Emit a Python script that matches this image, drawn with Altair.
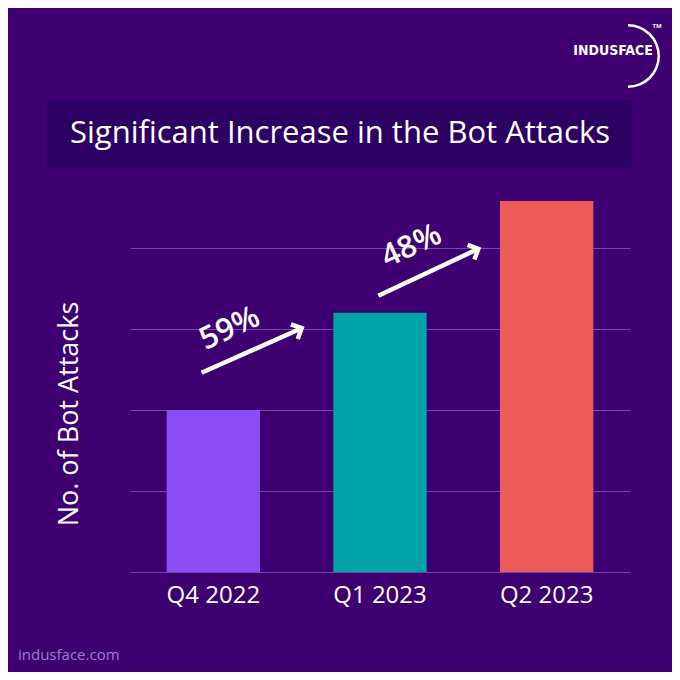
import altair as alt
import pandas as pd

# ---- data ----
quarters = ["Q4 2022", "Q1 2023", "Q2 2023"]
attacks = [2.0, 3.2, 4.58]          # relative bot-attack volume (grid units)
bar_colors = ["#8b4cf6", "#00a3a8", "#ee5a5a"]

growth_labels = ["59%", "48%"]
# growth arrows, in bar-index units (bar i centred at i + 0.5) and y units
arrow_x0 = [0.43, 1.49]
arrow_y0 = [2.46, 3.41]
arrow_x1 = [1.03, 2.09]
arrow_y1 = [3.01, 3.99]
label_x = [0.60, 1.69]
label_y = [3.00, 4.02]

grid_values = [0, 1, 2, 3, 4]

FONT = "Open Sans"
BG = "#3e0070"
WHITE = "#ffffff"

bars_df = pd.DataFrame({"quarter": quarters, "attacks": attacks})
arrows_df = pd.DataFrame({
    "x0": arrow_x0, "y0": arrow_y0, "x1": arrow_x1, "y1": arrow_y1,
})
labels_df = pd.DataFrame({"x": label_x, "y": label_y, "label": growth_labels})

yscale = alt.Scale(domain=[0, 5], nice=False)
xcont = alt.Scale(domain=[0, 3], nice=False, zero=False)

bars = alt.Chart(bars_df).mark_bar().encode(
    x=alt.X("quarter:N", sort=quarters,
            scale=alt.Scale(paddingInner=0.44, paddingOuter=0.22),
            axis=alt.Axis(title=None, labelAngle=0, labelFontSize=24, labelColor=WHITE,
                          labelFont=FONT, labelPadding=11, ticks=False, domain=False,
                          grid=False)),
    y=alt.Y("attacks:Q", scale=yscale,
            axis=alt.Axis(values=grid_values, labels=False, ticks=False, domain=False,
                          title=None, grid=True, gridColor="#6f47a8", gridWidth=1)),
    color=alt.Color("quarter:N", sort=quarters,
                    scale=alt.Scale(domain=quarters, range=bar_colors), legend=None),
)

arrow_lines = alt.Chart(arrows_df).mark_rule(color=WHITE, strokeWidth=4.5).encode(
    x=alt.X("x0:Q", scale=xcont, axis=None),
    x2="x1:Q",
    y=alt.Y("y0:Q", scale=yscale),
    y2="y1:Q",
)

arrow_heads = alt.Chart(arrows_df).mark_point(
    shape="M-1,-1L0,0L-1,1", filled=False, color=WHITE, strokeWidth=4.5,
    size=260, angle=335, opacity=1, strokeJoin="miter",
).encode(
    x=alt.X("x1:Q", scale=xcont, axis=None),
    y=alt.Y("y1:Q", scale=yscale),
)

growth_text = alt.Chart(labels_df).mark_text(
    color=WHITE, fontSize=31, fontWeight=600, font=FONT, angle=335,
    align="center", baseline="middle",
).encode(
    x=alt.X("x:Q", scale=xcont, axis=None),
    y=alt.Y("y:Q", scale=yscale),
    text="label:N",
)

one = pd.DataFrame({"t": [""]})

title_box = alt.Chart(one).mark_rect(color="#2c0062").encode(
    x=alt.value(-83), x2=alt.value(502), y=alt.value(-67), y2=alt.value(1),
)
title_text = alt.Chart(pd.DataFrame({"t": ["Significant Increase in the Bot Attacks"]})).mark_text(
    color=WHITE, fontSize=31, font=FONT, align="center", baseline="middle",
).encode(x=alt.value(210), y=alt.value(-33), text="t:N")

y_title = alt.Chart(pd.DataFrame({"t": ["No. of Bot Attacks"]})).mark_text(
    color=WHITE, fontSize=27, font=FONT, angle=270, align="center", baseline="middle",
).encode(x=alt.value(-60), y=alt.value(247), text="t:N")

footer = alt.Chart(pd.DataFrame({"t": ["indusface.com"]})).mark_text(
    color="#9c7ccc", fontSize=15, font=FONT, align="left", baseline="middle",
).encode(x=alt.value(-112), y=alt.value(488), text="t:N")

logo_text = alt.Chart(pd.DataFrame({"t": ["INDUSFACE"]})).mark_text(
    color=WHITE, fontSize=14, font="DejaVu Sans Condensed, Liberation Sans Narrow, Liberation Sans",
    fontWeight="bold", align="center", baseline="middle",
).encode(x=alt.value(483), y=alt.value(-116), text="t:N")

logo_arc = alt.Chart(one).mark_arc(
    color=WHITE, radius=32, radius2=29.5, theta=0.0, theta2=3.1416,
).encode(x=alt.value(498), y=alt.value(-111))

logo_tm = alt.Chart(pd.DataFrame({"t": ["TM"]})).mark_text(
    color=WHITE, fontSize=6, font=FONT, fontWeight="bold", align="center", baseline="middle",
).encode(x=alt.value(527), y=alt.value(-141), text="t:N")

chart = alt.layer(
    title_box, bars, arrow_lines, arrow_heads, growth_text,
    title_text, y_title, footer, logo_text, logo_arc, logo_tm,
).resolve_scale(x="independent").properties(
    width=500, height=405, background=BG,
    padding={"left": 122, "top": 159, "right": 42, "bottom": 100},
    autosize=alt.AutoSizeParams(type="none"),
).configure_view(stroke=None)

chart.save("out.html", embed_options={"renderer": "svg", "actions": False})
